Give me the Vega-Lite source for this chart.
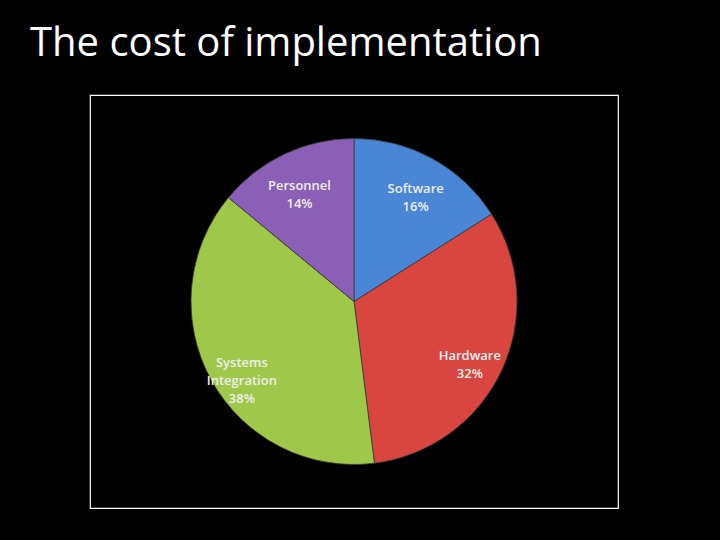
{
  "$schema": "https://vega.github.io/schema/vega-lite/v6.json",
  "background": "#000000",
  "autosize": "none",
  "padding": {"left": 90, "top": 95, "right": 102, "bottom": 32},
  "width": 528,
  "height": 413,
  "view": {"stroke": "#ffffff", "strokeWidth": 1.2},
  "title": {
    "text": "The cost of implementation",
    "anchor": "start",
    "frame": "group",
    "dx": -60,
    "offset": -1,
    "baseline": "alphabetic",
    "font": "Open Sans",
    "fontSize": 40,
    "fontWeight": "normal",
    "color": "#ffffff"
  },
  "data": {
    "values": [
      {"category": "Software", "value": 16, "order": 1, "label": "Software\n16%"},
      {"category": "Hardware", "value": 32, "order": 2, "label": "Hardware\n32%"},
      {"category": "Systems Integration", "value": 38, "order": 3, "label": "Systems\nIntegration\n38%"},
      {"category": "Personnel", "value": 14, "order": 4, "label": "Personnel\n14%"}
    ]
  },
  "encoding": {
    "theta": {"field": "value", "type": "quantitative", "stack": true},
    "order": {"field": "order", "type": "quantitative"}
  },
  "layer": [
    {
      "mark": {"type": "arc", "outerRadius": 163, "stroke": "#3a3a3a", "strokeWidth": 0.8},
      "encoding": {
        "color": {
          "field": "category",
          "type": "nominal",
          "scale": {
            "domain": ["Software", "Hardware", "Systems Integration", "Personnel"],
            "range": ["#4a86d6", "#d9463f", "#9fc84a", "#8a5fb5"]
          },
          "legend": null
        }
      }
    },
    {
      "mark": {
        "type": "text",
        "radius": 128,
        "lineBreak": "\n",
        "font": "Open Sans",
        "fontSize": 13,
        "fontWeight": 600,
        "lineHeight": 18,
        "color": "#eeeeee",
        "align": "center",
        "baseline": "middle"
      },
      "encoding": {
        "text": {"field": "label", "type": "nominal"}
      }
    }
  ]
}
